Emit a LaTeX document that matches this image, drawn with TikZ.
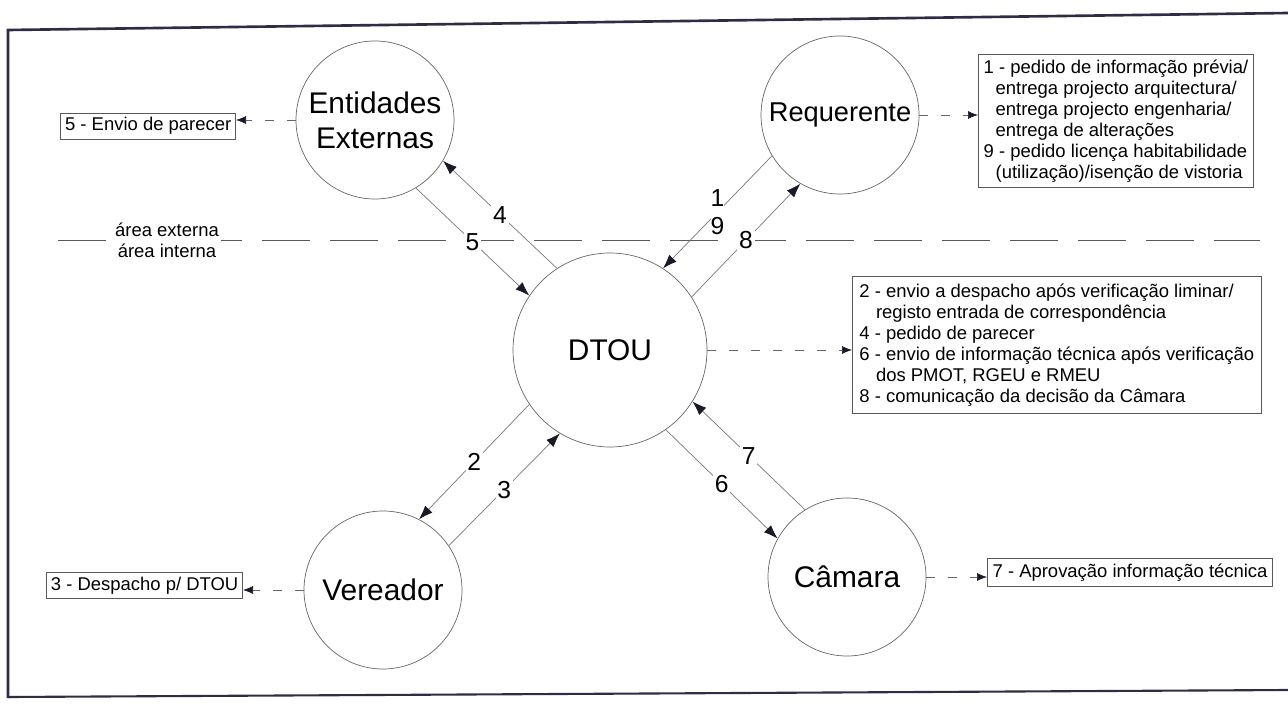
\documentclass[tikz,border=0pt]{standalone}
\usepackage{fontspec}
\setmainfont{Liberation Sans}
\usetikzlibrary{arrows.meta, positioning, calc}
\definecolor{framenavy}{RGB}{45, 45, 70}
\definecolor{linegray}{RGB}{120, 120, 120}
\definecolor{tipdark}{RGB}{25, 25, 40}

\begin{document}
\begin{tikzpicture}[
  entity/.style={draw, circle, thin, gray!80!black, text=black, minimum size=3.16cm,
                 inner sep=0pt, align=center, font=\fontsize{17}{20}\selectfont},
  note/.style={draw, thin, gray!70!black, text=black, inner sep=3pt, align=left,
               font=\fontsize{10.5}{12}\selectfont},
  flow/.style={-{Latex[length=0.28cm, width=0.2cm, color=tipdark]}, linegray, thin},
  tag/.style={fill=white, inner sep=1pt, text=black, font=\fontsize{14}{16}\selectfont},
  link/.style={-{Latex[length=0.2cm, width=0.16cm, color=tipdark]}, gray!80!black,
               dash pattern=on 0.18cm off 0.26cm},
]
\useasboundingbox (0,0) rectangle (25.76,14.08);

% Frame
\draw[framenavy, line width=1.5pt] (25.76,13.82) -- (0.16,13.48) -- (0.16,0.12);
\draw[framenavy, line width=1.2pt] (0.16,0.14) -- (25.76,0.28);

% Divider
\coordinate (divl) at (1.16, 9.28);
\coordinate (divr) at (25.2, 9.28);
\draw[gray!70!black, dash pattern=on 0.96cm off 0.4cm] (divl) -- (divr);
\node[fill=white, inner sep=1pt, align=center, font=\fontsize{10.5}{12}\selectfont]
  (areas) at (3.34, 9.28) {área externa\\área interna};

% Circles
\node[entity] (ent) at (7.5, 11.68) {Entidades\\Externas};
\node[entity, font=\fontsize{15.5}{18}\selectfont] (req) at (16.8, 11.78) {Requerente};
\node[entity, minimum size=3.88cm] (dtou) at (12.2, 7.08) {DTOU};
\node[entity] (ver) at (7.66, 2.28) {Vereador};
\node[entity] (cam) at (16.94, 2.54) {Câmara};

% Notes
\node[note, anchor=east, inner sep=2.5pt] (envio) at (4.72, 11.56) {5 - Envio de parecer};
\node[note, anchor=west] (reqnote) at (19.56, 11.66)
{1 - pedido de informação prévia/\\
\hspace*{0.65em}entrega projecto arquitectura/\\
\hspace*{0.65em}entrega projecto engenharia/\\
\hspace*{0.65em}entrega de alterações\\
9 - pedido licença habitabilidade\\
\hspace*{0.65em}(utilização)/isenção de vistoria};
\node[note, anchor=west, inner sep=4pt] (dtounote) at (17.04, 7.18)
{2 - envio a despacho após verificação liminar/\\
\hspace*{0.9em}registo entrada de correspondência\\
4 - pedido de parecer\\
6 - envio de informação técnica após verificação\\
\hspace*{0.9em}dos PMOT, RGEU e RMEU\\
8 - comunicação da decisão da Câmara};
\node[note, anchor=east, inner sep=2.5pt] (vernote) at (4.86, 2.37) {3 - Despacho p/ DTOU};
\node[note, anchor=west] (camnote) at (19.74, 2.63) {7 - Aprovação informação técnica};

% Dashed links to notes
\draw[link] (ent.west) -- (ent.west -| envio.east);
\draw[link] (req.east) -- (req.east -| reqnote.west);
\draw[link] (dtou.east) -- (dtou.east -| dtounote.west);
\draw[link] (ver.west) -- (ver.west -| vernote.east);
\draw[link] (cam.east) -- (cam.east -| camnote.west);

% Flows
\draw[flow] (ent.-59) -- node[tag] {5} (dtou.146);
\draw[flow] (dtou.123) -- node[tag] {4} (ent.-31);
\draw[flow] (req.-149) -- node[tag, align=center, inner sep=0pt] {1\\9} (dtou.57);
\draw[flow] (dtou.33) -- node[tag] {8} (req.-120);
\draw[flow] (dtou.214) -- node[tag] {2} (ver.63);
\draw[flow] (ver.34) -- node[tag] {3} (dtou.239);
\draw[flow] (dtou.-55) -- node[tag] {6} (cam.151);
\draw[flow] (cam.122) -- node[tag] {7} (dtou.-32);
\end{tikzpicture}
\end{document}
